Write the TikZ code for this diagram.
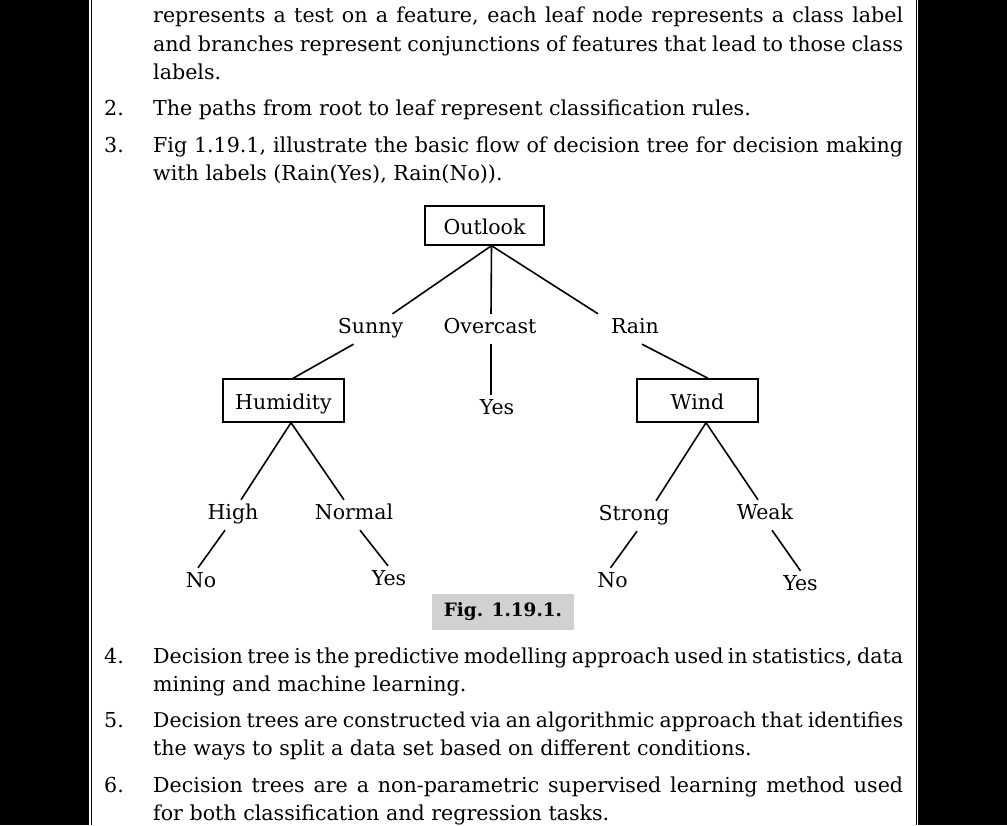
\documentclass[tikz,border=0pt]{standalone}
\usepackage{fontspec}
\setmainfont{DejaVu Serif}
\begin{document}
\begin{tikzpicture}[x=1pt,y=-1pt,
  body/.style={anchor=base west,inner sep=0pt,font=\fontsize{20.6}{24}\selectfont},
  box/.style={draw,line width=1.4pt,minimum width=121pt,minimum height=43pt,inner sep=0pt,text height=17pt,text depth=0pt,font=\fontsize{20.5}{24}\selectfont},
  lbl/.style={inner sep=0pt,minimum height=30pt,text height=13pt,text depth=4pt,font=\fontsize{20.5}{24}\selectfont},
  edge/.style={line width=1.6pt},
  figcap/.style={fill=black!18,minimum width=142pt,minimum height=36pt,inner sep=0pt,font=\bfseries\fontsize{18.4}{22}\selectfont}]
\useasboundingbox (0,0) rectangle (1007,825);
\clip (0,0) rectangle (1007,825);
% page frame
\fill[black] (0,0) rectangle (89,825);
\fill[black] (918,0) rectangle (1007,825);
\draw[line width=1.5pt] (91.5,0) -- (91.5,825);
\draw[line width=1.5pt] (916.3,0) -- (916.3,825);
% text above
\node[body] (l1) at (153,22) {\makebox[750pt][s]{represents a test on a feature, each leaf node represents a class label}};
\node[body] (l2) at (153,51) {\makebox[750pt][s]{and branches represent conjunctions of features that lead to those class}};
\node[body] (l3) at (153,79) {labels.};
\node[body] (n2) at (104,115) {2.};
\node[body] (l4) at (153,115) {The paths from root to leaf represent classification rules.};
\node[body] (n3) at (104,152) {3.};
\node[body] (l5) at (153,152) {\makebox[750pt][s]{Fig 1.19.1, illustrate the basic flow of decision tree for decision making}};
\node[body] (l6) at (153,180) {with labels (Rain(Yes), Rain(No)).};
% tree
\node[box,minimum width=119pt,minimum height=39pt] (outlook) at (484.5,225.5) {Outlook};
\node[lbl] (sunny) at (370.5,329) {Sunny};
\node[lbl] (overcast) at (490,329) {Overcast};
\node[lbl] (rain) at (635,329) {Rain};
\node[lbl] (yes0) at (497,410) {Yes};
\node[box] (humidity) at (283.5,400.5) {Humidity};
\node[box] (wind) at (697.5,400.5) {Wind};
\node[lbl] (high) at (233,515) {High};
\node[lbl] (normal) at (354,515) {Normal};
\node[lbl] (no1) at (201,583) {No};
\node[lbl] (yes1) at (389,581) {Yes};
\node[lbl] (strong) at (634,516) {Strong};
\node[lbl] (weak) at (765,515) {Weak};
\node[lbl] (no2) at (612.5,583) {No};
\node[lbl] (yes2) at (800.5,586) {Yes};
\draw[edge] ([xshift=7pt]outlook.south) -- ([xshift=22pt]sunny.north);
\draw[edge] ([xshift=7pt]outlook.south) -- ([xshift=1pt]overcast.north);
\draw[edge] ([xshift=7pt]outlook.south) -- ([xshift=-37pt]rain.north);
\draw[edge] ([xshift=1pt]overcast.south) -- ([xshift=-6pt]yes0.north);
\draw[edge] ([xshift=-17pt]sunny.south) -- ([xshift=9.5pt]humidity.north);
\draw[edge] ([xshift=7pt]rain.south) -- ([xshift=10.5pt]wind.north);
\draw[edge] ([xshift=7.5pt]humidity.south) -- ([xshift=8pt]high.north);
\draw[edge] ([xshift=7.5pt]humidity.south) -- ([xshift=-10pt]normal.north);
\draw[edge] ([xshift=-8pt]high.south) -- ([xshift=-3pt]no1.north);
\draw[edge] ([xshift=6pt]normal.south) -- ([xshift=-1pt]yes1.north);
\draw[edge] ([xshift=8.5pt]wind.south) -- ([xshift=22pt]strong.north);
\draw[edge] ([xshift=8.5pt]wind.south) -- ([xshift=-7pt]weak.north);
\draw[edge] ([xshift=3pt]strong.south) -- ([xshift=-2pt]no2.north);
\draw[edge] ([xshift=7pt]weak.south) -- (yes2.north);
\node[figcap] (fig) at (503,612) {Fig. 1.19.1.};
% text below
\node[body] (n4) at (104,663) {4.};
\node[body] (l7) at (153,663) {\makebox[750pt][s]{Decision tree is the predictive modelling approach used in statistics, data}};
\node[body] (l8) at (153,691) {mining and machine learning.};
\node[body] (n5) at (104,727) {5.};
\node[body,font=\fontsize{20.35}{24}\selectfont] (l9) at (153,727) {\makebox[750pt][s]{Decision trees are constructed via an algorithmic approach that identifies}};
\node[body] (l10) at (153,755) {the ways to split a data set based on different conditions.};
\node[body] (n6) at (104,792) {6.};
\node[body] (l11) at (153,792) {\makebox[750pt][s]{Decision trees are a non-parametric supervised learning method used}};
\node[body] (l12) at (153,820) {for both classification and regression tasks.};
\end{tikzpicture}
\end{document}
